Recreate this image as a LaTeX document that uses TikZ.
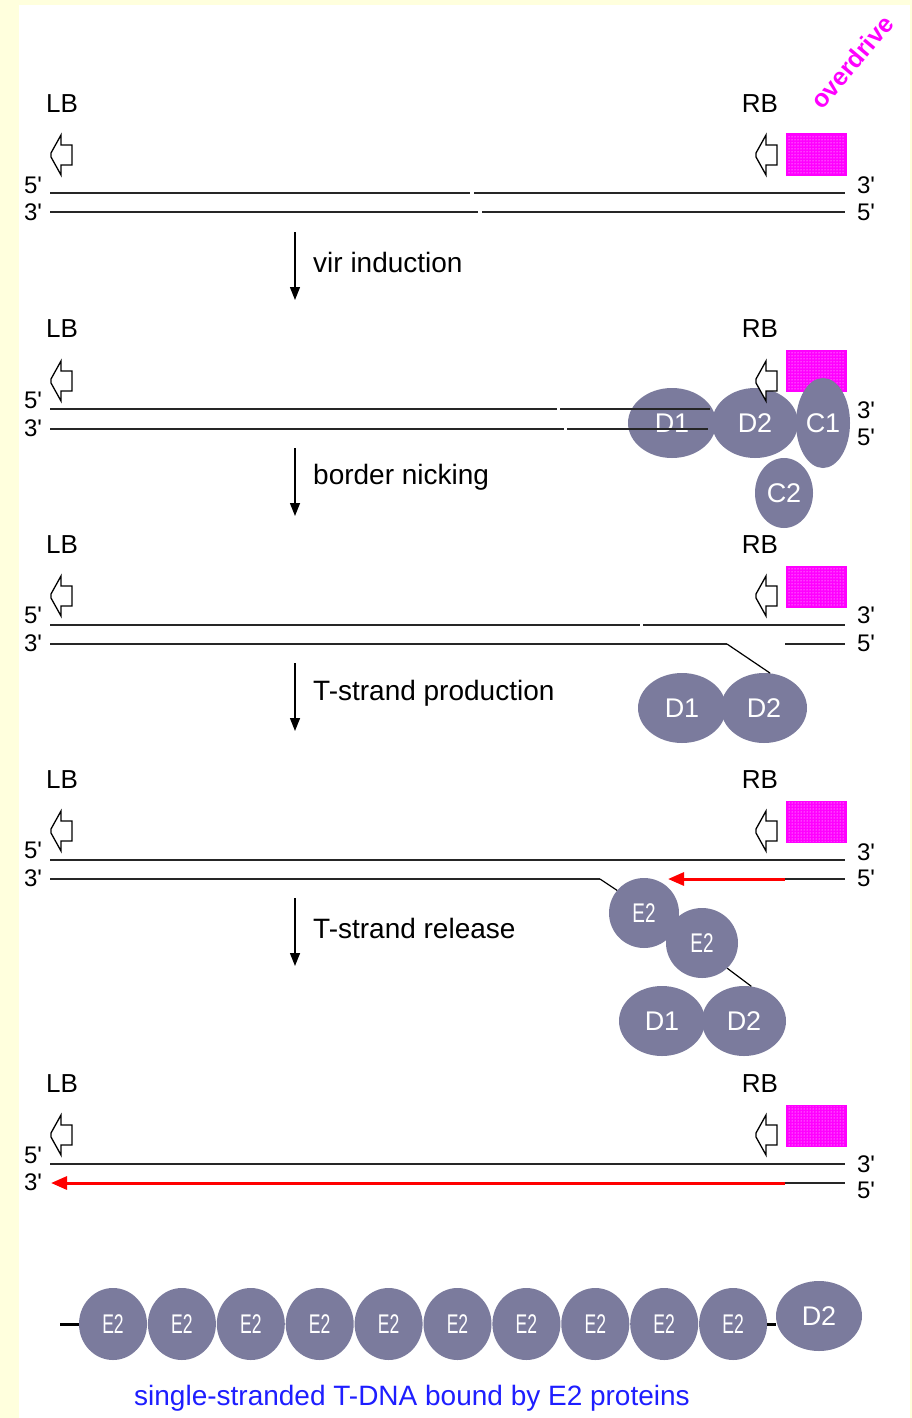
\documentclass[tikz,border=0pt]{standalone}
\usepackage{fontspec}
\newfontfamily\labelfont{Liberation Sans}
\usetikzlibrary{arrows.meta,patterns,shapes.geometric}

\definecolor{pagebg}{RGB}{255,255,221}
\definecolor{protein}{RGB}{123,123,157}
\definecolor{odrive}{RGB}{255,0,255}
\definecolor{capblue}{RGB}{30,30,255}

\tikzset{
  strand/.style={line width=1.7pt, black!85},
  tstrand/.style={line width=3pt, red, -{Triangle[width=13pt,length=16pt]}},
  stepline/.style={line width=1.4pt, -{Triangle[width=10pt,length=13pt]}},
  lbl/.style={font=\labelfont\fontsize{26}{28}\selectfont, inner sep=0pt},
  endlbl/.style={font=\labelfont\fontsize{24}{26}\selectfont, inner sep=0pt},
  steplbl/.style={font=\labelfont\fontsize{28}{30}\selectfont, anchor=west, inner sep=0pt},
  prot/.style={ellipse, fill=protein, inner sep=0pt, text=white,
    font=\labelfont\fontsize{27}{28}\selectfont},
  odbox/.style={fill=odrive, draw=odrive, line width=1pt},
  linker/.style={line width=1.2pt, black},
  bordermark/.pic={
    \draw[line width=1.3pt, fill=white, line join=miter]
      (11,-10) -- (0,-10) -- (0,-20) -- (-10,-2) -- (-10,2) -- (0,20)
      -- (0,10) -- (11,10) -- cycle;}
}
\newcommand{\etwo}{\scalebox{0.7}[1]{E2}}

\begin{document}
\begin{tikzpicture}[x=1pt,y=-1pt]
\useasboundingbox (0,0) rectangle (912,1418);
\fill[pagebg] (0,0) rectangle (912,1418);
\fill[white] (19,5) rectangle (910,1418);

% overdrive label
\node[font=\labelfont\bfseries\fontsize{25}{27}\selectfont, text=odrive, rotate=50, inner sep=0pt] (od) at (852,62) {overdrive};

% repeated parts of each row: border labels and overdrive boxes
\foreach \s/\yl/\yb in {1/104/134, 2/329/350, 3/545/566, 4/780/801, 5/1084/1105}{
  \node[lbl] (lb\s) at (62,\yl) {LB};
  \node[lbl] (rb\s) at (760,\yl) {RB};
  \fill[odbox] (786,\yb) rectangle ++(60,41);
  \fill[pattern=dots, pattern color=white] (787,\yb+1) rectangle ++(58,39);
}

% ---- row 1 ----
\coordinate (r1a) at (50,193); \coordinate (r1b) at (470,193);
\coordinate (r1c) at (474,193); \coordinate (r1d) at (845,193);
\coordinate (r1e) at (50,212); \coordinate (r1f) at (478,212);
\coordinate (r1g) at (482,212); \coordinate (r1h) at (845,212);
\draw[strand] (r1a) -- (r1b) (r1c) -- (r1d) (r1e) -- (r1f) (r1g) -- (r1h);
\node[endlbl] (r1l5) at (33,185) {5'};
\node[endlbl] (r1l3) at (33,212) {3'};
\node[endlbl] (r1r3) at (866,185) {3'};
\node[endlbl] (r1r5) at (866,212) {5'};

% ---- row 2 ----
\node[prot, minimum width=86, minimum height=70] (r2d2) at (755,423) {D2};
\node[prot, minimum width=54, minimum height=90] (r2c1) at (823,423) {C1};
\node[prot, minimum width=58, minimum height=70] (r2c2) at (784,493) {C2};
\node[prot, minimum width=88, minimum height=70] (r2d1) at (672,423) {D1};
\coordinate (r2a) at (50,409); \coordinate (r2b) at (557,409);
\coordinate (r2c) at (560,409); \coordinate (r2d) at (710,409);
\coordinate (r2e) at (50,429); \coordinate (r2f) at (564,429);
\coordinate (r2g) at (567,429); \coordinate (r2h) at (708,429);
\draw[strand] (r2a) -- (r2b) (r2c) -- (r2d) (r2e) -- (r2f) (r2g) -- (r2h);
\node[endlbl] (r2l5) at (33,400) {5'};
\node[endlbl] (r2l3) at (33,428) {3'};
\node[endlbl] (r2r3) at (866,410) {3'};
\node[endlbl] (r2r5) at (866,437) {5'};

% ---- row 3 ----
\node[prot, minimum width=88, minimum height=70] (r3d1) at (682,708) {D1};
\node[prot, minimum width=86, minimum height=70] (r3d2) at (764,708) {D2};
\coordinate (r3a) at (50,625); \coordinate (r3b) at (640,625);
\coordinate (r3c) at (643,625); \coordinate (r3d) at (845,625);
\coordinate (r3e) at (50,644); \coordinate (r3f) at (727,644);
\coordinate (r3g) at (785,644); \coordinate (r3h) at (845,644);
\draw[strand] (r3a) -- (r3b) (r3c) -- (r3d) (r3g) -- (r3h);
\draw[strand] (r3e) -- (r3f);
\draw[linker] (r3f) -- (r3d2.80);
\node[endlbl] (r3l5) at (33,615) {5'};
\node[endlbl] (r3l3) at (33,643) {3'};
\node[endlbl] (r3r3) at (866,615) {3'};
\node[endlbl] (r3r5) at (866,643) {5'};

% ---- row 4 ----
\node[prot, minimum width=70, minimum height=70] (r4e1) at (644,913) {\etwo};
\node[prot, minimum width=72, minimum height=70] (r4e2) at (702,943) {\etwo};
\node[prot, minimum width=86, minimum height=70] (r4d1) at (662,1021) {D1};
\node[prot, minimum width=84, minimum height=70] (r4d2) at (744,1021) {D2};
\coordinate (r4a) at (50,860); \coordinate (r4d) at (845,860);
\coordinate (r4e) at (50,879); \coordinate (r4f) at (600,879);
\coordinate (r4g) at (785,879); \coordinate (r4h) at (845,879);
\coordinate (r4tip) at (668,879);
\draw[strand] (r4a) -- (r4d) (r4e) -- (r4f) (r4g) -- (r4h);
\draw[linker] (r4f) -- (r4e1.140);
\draw[linker] (r4e2.-45) -- (r4d2.78);
\draw[tstrand] (r4g) -- (r4tip);
\node[endlbl] (r4l5) at (33,850) {5'};
\node[endlbl] (r4l3) at (33,878) {3'};
\node[endlbl] (r4r3) at (866,852) {3'};
\node[endlbl] (r4r5) at (866,878) {5'};

% ---- row 5 ----
\coordinate (r5a) at (50,1164); \coordinate (r5d) at (845,1164);
\coordinate (r5g) at (785,1183); \coordinate (r5h) at (845,1183);
\coordinate (r5tip) at (51,1183);
\draw[strand] (r5a) -- (r5d) (r5g) -- (r5h);
\draw[tstrand] (r5g) -- (r5tip);
\node[endlbl] (r5l5) at (33,1155) {5'};
\node[endlbl] (r5l3) at (33,1182) {3'};
\node[endlbl] (r5r3) at (866,1164) {3'};
\node[endlbl] (r5r5) at (866,1190) {5'};

% border marks drawn over the proteins
\foreach \s/\ya in {1/155, 2/381, 3/596, 4/831, 5/1135}{
  \pic (lbm\s) at (61,\ya) {bordermark};
  \pic (rbm\s) at (766,\ya) {bordermark};
}

% ---- steps between rows ----
\foreach \k/\ys/\yt/\txt in {1/232/262/vir induction, 2/448/477/border nicking,
    3/663/693/T-strand production, 4/898/928/T-strand release}{
  \coordinate (st\k a) at (295,\ys);
  \coordinate (st\k b) at (295,\ys+68);
  \draw[stepline] (st\k a) -- (st\k b);
  \node[steplbl] (st\k t) at (313,\yt) {\txt};
}

% ---- single-stranded T-DNA complex ----
\foreach \i in {0,...,9}{
  \node[prot, minimum width=68, minimum height=72] (ch\i) at (113+68.9*\i,1324) {\scalebox{0.65}[1]{E2}};
}
\node[prot, minimum width=86, minimum height=70] (chd2) at (819,1316) {D2};
\coordinate (chstart) at (60,1324);
\draw[line width=3pt] (chstart) -- (ch0.west);
\draw[line width=3pt] (ch9.east) -- (ch9.east -| chd2.west);
\node[font=\labelfont\fontsize{28}{30}\selectfont, text=capblue, inner sep=0pt] (cap) at (412,1398)
  {single-stranded T-DNA bound by E2 proteins};
\end{tikzpicture}
\end{document}
